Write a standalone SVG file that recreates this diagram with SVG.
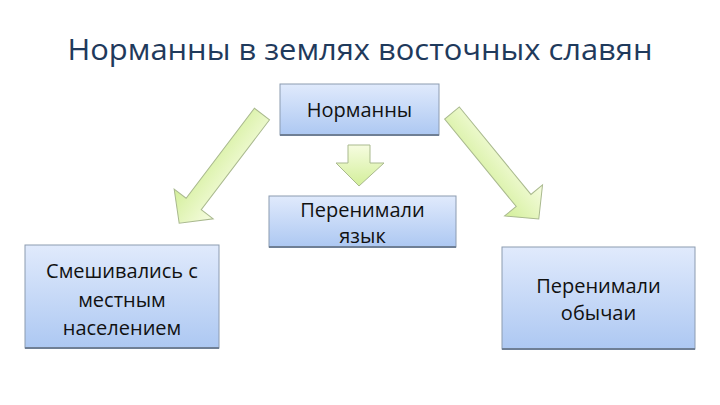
<svg xmlns="http://www.w3.org/2000/svg" width="720" height="405" viewBox="0 0 720 405">
<defs>
<linearGradient id="box" x1="0" y1="0" x2="0" y2="1">
<stop offset="0" stop-color="#e0eafc"/>
<stop offset="1" stop-color="#adc8f2"/>
</linearGradient>
<linearGradient id="arr" x1="0" y1="0" x2="0" y2="1">
<stop offset="0" stop-color="#f6fce0"/>
<stop offset="1" stop-color="#d3ef9a"/>
</linearGradient>
<style>
.box{fill:url(#box);stroke:#8c9bb0;stroke-width:1}
.sh{stroke:#6f7f95;stroke-width:2}
.t{font-family:"Open Sans","Noto Sans",sans-serif;font-size:20px;fill:#111;text-anchor:middle}
.arrow{fill:url(#arr);stroke:#a9b98e;stroke-width:1}
</style>
</defs>
<rect width="720" height="405" fill="#ffffff"/>
<text x="360" y="60" font-family="'Open Sans','Noto Sans',sans-serif" font-size="29" fill="#1f3a5c" text-anchor="middle" textLength="585" lengthAdjust="spacingAndGlyphs">Норманны в землях восточных славян</text>
<g id="connectors">
<path class="arrow" d="M0,-9.5 L113,-9.5 L113,-24.5 L137,0 L113,24.5 L113,9.5 L0,9.5 Z" transform="translate(262,114) rotate(127.2)"/>
<path class="arrow" d="M0,-9.5 L113,-9.5 L113,-24.5 L137,0 L113,24.5 L113,9.5 L0,9.5 Z" transform="translate(452,113) rotate(50.7)"/>
<path class="arrow" d="M348,145 L370,145 L370,163 L384,163 L359,186 L336,163 L348,163 Z"/>
</g>
<g id="normans">
<rect class="box" x="280" y="84" width="159" height="51"/>
<line class="sh" x1="280" y1="135" x2="439" y2="135"/>
<text class="t" x="359.5" y="117">Норманны</text>
</g>
<g id="language">
<rect class="box" x="269" y="196" width="187" height="51"/>
<line class="sh" x1="269" y1="247" x2="456" y2="247"/>
<text class="t" x="362.5" y="217">Перенимали</text>
<text class="t" x="362.5" y="243">язык</text>
</g>
<g id="mixed">
<rect class="box" x="25" y="245" width="194" height="103"/>
<line class="sh" x1="25" y1="348" x2="219" y2="348"/>
<text class="t" x="122" y="278">Смешивались с</text>
<text class="t" x="122" y="307">местным</text>
<text class="t" x="122" y="335">населением</text>
</g>
<g id="customs">
<rect class="box" x="502" y="247" width="193" height="102"/>
<line class="sh" x1="502" y1="349" x2="695" y2="349"/>
<text class="t" x="598.5" y="293">Перенимали</text>
<text class="t" x="598.5" y="320">обычаи</text>
</g>
</svg>
